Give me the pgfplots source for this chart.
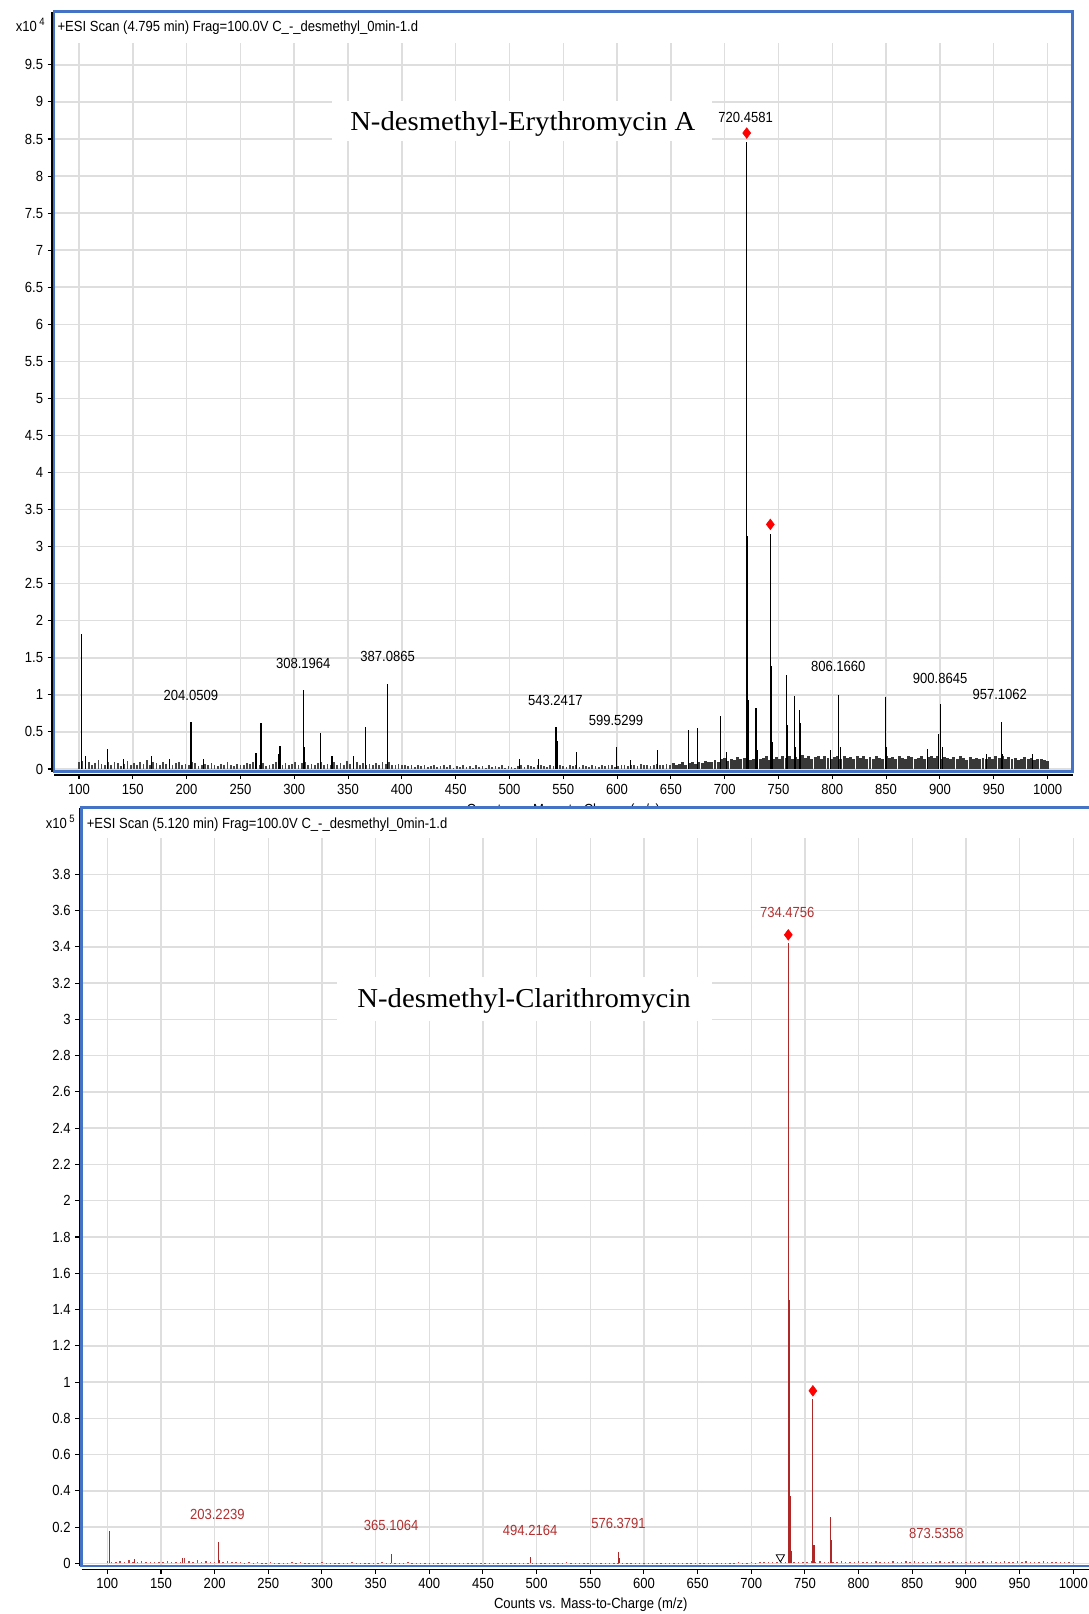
\documentclass[border=0pt]{standalone}
\usepackage{pgfplots}
\pgfplotsset{compat=1.18}
\usepackage{pgfplotstable}
\usepackage{fontspec}
\setmainfont[FakeStretch=0.89]{Liberation Sans}
\newfontfamily\titlefont[FakeStretch=1.05]{Liberation Serif}

\definecolor{frameblue}{RGB}{68,114,196}
\definecolor{gridgray}{RGB}{222,222,222}
\definecolor{specred}{RGB}{175,40,40}
\definecolor{labred}{RGB}{178,48,48}

% background noise, top spectrum (x10^4), m/z 100..1000 step 3
\pgfplotstableread[row sep=\\]{n\\
.09\\.11\\.07\\.10\\.06\\.08\\.12\\.07\\.05\\.09\\
.06\\.10\\.08\\.04\\.07\\.11\\.06\\.08\\.05\\.09\\
.07\\.12\\.06\\.10\\.08\\.05\\.09\\.07\\.11\\.06\\
.08\\.10\\.05\\.07\\.06\\.09\\.08\\.04\\.06\\.07\\
.05\\.08\\.06\\.04\\.07\\.05\\.09\\.06\\.04\\.07\\
.06\\.05\\.08\\.07\\.10\\.06\\.05\\.08\\.04\\.06\\
.07\\.09\\.05\\.06\\.08\\.05\\.07\\.10\\.06\\.08\\
.09\\.06\\.07\\.05\\.08\\.10\\.06\\.07\\.05\\.09\\
.06\\.08\\.05\\.11\\.07\\.06\\.09\\.05\\.08\\.06\\
.07\\.05\\.08\\.06\\.09\\.07\\.10\\.06\\.05\\.07\\
.05\\.06\\.04\\.05\\.03\\.06\\.04\\.05\\.03\\.04\\
.05\\.03\\.04\\.06\\.03\\.05\\.02\\.04\\.03\\.05\\
.03\\.04\\.02\\.05\\.03\\.04\\.02\\.06\\.03\\.04\\
.03\\.05\\.02\\.04\\.03\\.02\\.04\\.06\\.03\\.05\\
.04\\.03\\.05\\.06\\.04\\.03\\.05\\.04\\.07\\.05\\
.04\\.03\\.05\\.04\\.06\\.03\\.05\\.04\\.03\\.05\\
.04\\.03\\.05\\.04\\.06\\.05\\.03\\.04\\.06\\.05\\
.04\\.06\\.05\\.04\\.07\\.05\\.06\\.04\\.05\\.07\\
.05\\.06\\.07\\.05\\.08\\.06\\.07\\.09\\.06\\.08\\
.10\\.07\\.09\\.08\\.11\\.09\\.10\\.12\\.09\\.13\\
.15\\.11\\.14\\.12\\.16\\.13\\.15\\.18\\.12\\.14\\
.16\\.13\\.15\\.17\\.12\\.14\\.16\\.13\\.18\\.15\\
.17\\.14\\.16\\.13\\.19\\.15\\.17\\.14\\.16\\.18\\
.14\\.17\\.15\\.13\\.16\\.18\\.14\\.17\\.15\\.16\\
.13\\.17\\.15\\.18\\.14\\.16\\.13\\.17\\.15\\.14\\
.18\\.15\\.16\\.13\\.17\\.15\\.14\\.18\\.16\\.13\\
.15\\.17\\.14\\.16\\.18\\.15\\.17\\.13\\.16\\.15\\
.14\\.16\\.13\\.17\\.15\\.12\\.16\\.14\\.15\\.13\\
.15\\.13\\.16\\.14\\.17\\.15\\.18\\.14\\.16\\.13\\
.15\\.12\\.14\\.16\\.13\\.15\\.12\\.14\\.13\\.12\\
.11\\
}\noiseA

% labelled and visible peaks, top spectrum (x10^4)
\pgfplotstableread{
x y
102.5 1.82
105.9 0.18
126.3 0.27
141.0 0.13
167.5 0.18
183.9 0.14
203.2 0.53
204.05 0.64
215.5 0.14
264.5 0.22
269.1 0.62
285.5 0.20
286.8 0.31
308.2 1.06
309.7 0.29
324.2 0.49
335.1 0.17
354.9 0.17
366.4 0.56
387.09 1.15
509.3 0.14
526.7 0.14
543.24 0.56
544.8 0.38
562.2 0.23
599.53 0.29
612.5 0.12
637.7 0.26
666.0 0.52
675.0 0.55
696.3 0.71
702.0 0.23
720.46 8.46
721.4 3.15
722.5 0.93
729.1 0.82
730.0 0.25
742.4 3.17
743.3 1.39
744.8 0.36
757.3 1.27
758.5 0.60
764.9 0.99
766.1 0.30
769.4 0.79
770.8 0.62
798.0 0.25
806.17 1.00
807.2 0.30
849.0 0.97
850.0 0.30
888.2 0.27
899.0 0.47
900.86 0.88
902.0 0.30
942.9 0.20
957.11 0.64
958.2 0.20
986.2 0.20
}\peaksA

% background noise, bottom spectrum (x10^5), m/z 100..1000 step 4
\pgfplotstableread[row sep=\\]{n\\
.012\\.010\\.008\\.014\\.007\\.020\\.009\\.006\\.011\\.008\\
.007\\.010\\.006\\.009\\.012\\.008\\.006\\.010\\.030\\.014\\
.009\\.018\\.007\\.011\\.006\\.009\\.015\\.008\\.012\\.006\\
.008\\.010\\.005\\.007\\.004\\.006\\.005\\.004\\.006\\.003\\
.005\\.004\\.003\\.006\\.004\\.008\\.003\\.005\\.004\\.003\\
.006\\.004\\.003\\.005\\.002\\.004\\.003\\.006\\.002\\.004\\
.003\\.005\\.004\\.002\\.006\\.003\\.004\\.005\\.002\\.003\\
.008\\.003\\.002\\.004\\.003\\.002\\.005\\.003\\.002\\.004\\
.002\\.003\\.005\\.002\\.003\\.002\\.004\\.002\\.003\\.002\\
.003\\.002\\.004\\.002\\.003\\.005\\.002\\.003\\.002\\.004\\
.003\\.002\\.004\\.003\\.005\\.002\\.003\\.006\\.002\\.004\\
.003\\.005\\.002\\.004\\.003\\.002\\.005\\.003\\.004\\.002\\
.003\\.002\\.004\\.003\\.002\\.005\\.003\\.002\\.004\\.003\\
.002\\.004\\.003\\.002\\.005\\.003\\.004\\.002\\.003\\.004\\
.003\\.004\\.005\\.003\\.004\\.005\\.003\\.006\\.004\\.005\\
.006\\.005\\.007\\.006\\.008\\.006\\.007\\.009\\.008\\.010\\
.009\\.008\\.010\\.009\\.011\\.008\\.012\\.009\\.010\\.008\\
.009\\.011\\.008\\.010\\.009\\.012\\.008\\.010\\.009\\.011\\
.008\\.010\\.009\\.011\\.008\\.010\\.012\\.009\\.011\\.008\\
.010\\.009\\.012\\.008\\.013\\.010\\.009\\.011\\.008\\.010\\
.009\\.011\\.008\\.010\\.012\\.009\\.013\\.010\\.008\\.011\\
.010\\.008\\.011\\.009\\.012\\.008\\.010\\.009\\.011\\.008\\
.009\\.010\\.008\\.009\\.007\\.006\\
}\noiseB

% peaks, bottom spectrum (x10^5)
\pgfplotstableread{
x y
101.9 0.18
125.0 0.025
170.0 0.03
203.2 0.12
204.2 0.02
365.1 0.05
494.2 0.035
576.4 0.065
577.4 0.03
734.48 3.42
735.5 1.45
736.5 0.37
737.5 0.07
757.4 0.907
758.4 0.10
773.4 0.256
774.4 0.13
}\peaksB

\pgfplotsset{
  msstyle/.style={
    scale only axis, width=763.875pt, anchor=south west,
    axis x line*=bottom, axis y line*=left,
    x axis line style={-}, y axis line style={-},
    axis line style={black, line width=0.8pt},
    axis x line shift=2.6pt, axis y line shift=1.5pt,
    tick align=outside, major tick length=3.2pt,
    tick style={black, line width=0.8pt},
    xtick={100,150,...,1000},
    grid=major, major grid style={draw=gridgray, line width=1.1pt},
    tick label style={font=\fontsize{11}{13}\selectfont},
    /pgf/number format/assume math mode=true,
    /pgf/number format/1000 sep={},
    xlabel={Counts vs. Mass-to-Charge (m/z)},
    xlabel style={font=\fontsize{11}{13}\selectfont},
    clip=true,
  },
}
\tikzset{pk/.style={font=\fontsize{11}{13}\selectfont, inner sep=0pt}}

\begin{document}
\begin{tikzpicture}
\useasboundingbox (0,0) rectangle (816.75pt,-1210.5pt);

% ---- top spectrum
\begin{axis}[msstyle, at={(40.5pt,-578.625pt)}, height=570pt,
  xmin=76.77, xmax=1023.2, ymin=-0.034, ymax=10.22,
  ytick={0,0.5,...,9.5}]
\addplot[ycomb, draw=black!72, line width=1.3pt, restrict x to domain=99:649] table[x expr=100+3*\coordindex, y index=0] {\noiseA};
\addplot[ycomb, draw=black!78, line width=2.2pt, restrict x to domain=650:1001] table[x expr=100+3*\coordindex, y index=0] {\noiseA};
\addplot[ycomb, draw=black, line width=0.8pt] table[x=x, y=y] {\peaksA};
\addplot[only marks, mark=diamond*, mark size=4pt, color=red] coordinates {(720.46,8.58) (742.4,3.30)};
\node[pk] at (axis cs:719.5,8.79) {720.4581};
\node[pk] at (axis cs:204,0.99) {204.0509};
\node[pk] at (axis cs:308.4,1.43) {308.1964};
\node[pk] at (axis cs:386.8,1.52) {387.0865};
\node[pk] at (axis cs:542.6,0.93) {543.2417};
\node[pk] at (axis cs:599,0.65) {599.5299};
\node[pk] at (axis cs:805.5,1.38) {806.1660};
\node[pk] at (axis cs:900.2,1.22) {900.8645};
\node[pk] at (axis cs:955.6,1.0) {957.1062};
\end{axis}

\begin{scope}[x=0.75pt, y=-0.75pt]
\fill[white] (55,12.5) rectangle (1071.5,43);
\node[anchor=base west, inner sep=0pt, font=\fontsize{11}{13}\selectfont] at (57.3,31.7) {+ESI Scan (4.795 min) Frag=100.0V C\_-\_desmethyl\_0min-1.d};
\node[anchor=base east, inner sep=0pt, font=\fontsize{11}{13}\selectfont] at (45,31.7) {x10\,\raisebox{0.45em}{\fontsize{8}{9}\selectfont 4}};
\fill[white] (332,101) rectangle (712,141);
\node[anchor=base west, inner sep=0pt, font=\titlefont\fontsize{20.5}{24}\selectfont] at (350,130) {N-desmethyl-Erythromycin A};
\draw[frameblue, line width=1.6pt] (54,11.5) rectangle (1072.5,771.5);
\end{scope}

% ---- bottom spectrum
\begin{axis}[msstyle, at={(61.125pt,-1174.5pt)}, height=568.875pt,
  axis background/.style={fill=white},
  xmin=75.96, xmax=1024.9, ymin=-0.014, ymax=4.168,
  ytick={0,0.2,...,3.8}]
\addplot[ycomb, draw=specred!85, line width=1.1pt] table[x expr=100+4*\coordindex, y index=0] {\noiseB};
\addplot[ycomb, draw=specred, line width=0.8pt] table[x=x, y=y] {\peaksB};
\addplot[only marks, mark=diamond*, mark size=4pt, color=red] coordinates {(734.48,3.466) (757.4,0.952)};
\addplot[only marks, mark=triangle*, mark size=3.6pt, mark options={rotate=180, fill=white, draw=black, line width=0.6pt}] coordinates {(727.1,0.035)};
\node[pk, text=labred] at (axis cs:733.5,3.59) {734.4756};
\node[pk, text=labred] at (axis cs:202.5,0.27) {203.2239};
\node[pk, text=labred] at (axis cs:364.5,0.21) {365.1064};
\node[pk, text=labred] at (axis cs:494,0.18) {494.2164};
\node[pk, text=labred] at (axis cs:576.3,0.22) {576.3791};
\node[pk, text=labred] at (axis cs:872.5,0.165) {873.5358};
\end{axis}

\begin{scope}[x=0.75pt, y=-0.75pt]
\fill[white] (82.5,808.5) rectangle (1100,838);
\node[anchor=base west, inner sep=0pt, font=\fontsize{11}{13}\selectfont] at (86.5,828.6) {+ESI Scan (5.120 min) Frag=100.0V C\_-\_desmethyl\_0min-1.d};
\node[anchor=base east, inner sep=0pt, font=\fontsize{11}{13}\selectfont] at (75,828.6) {x10\,\raisebox{0.45em}{\fontsize{8}{9}\selectfont 5}};
\fill[white] (337,977) rectangle (712,1021);
\node[anchor=base west, inner sep=0pt, font=\titlefont\fontsize{20.5}{24}\selectfont] at (357.2,1007) {N-desmethyl-Clarithromycin};
\draw[frameblue, line width=1.6pt] (81.5,807.5) rectangle (1100,1566);
\end{scope}
\end{tikzpicture}
\end{document}
